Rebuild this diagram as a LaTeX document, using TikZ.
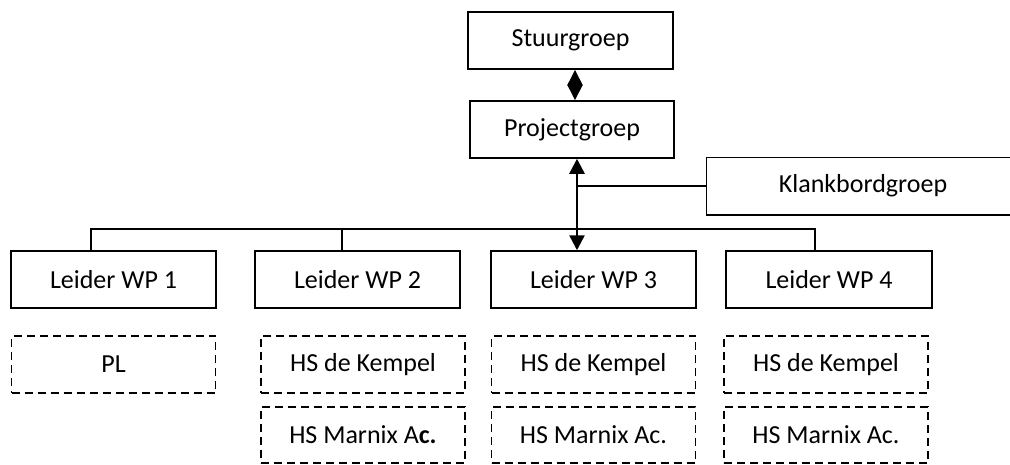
\documentclass[tikz,border=0pt]{standalone}
\usepackage{fontspec}
\setmainfont{Carlito}
\usetikzlibrary{arrows.meta}
\begin{document}
\begin{tikzpicture}[x=1pt,y=-1pt,
  box/.style={draw, line width=1.5pt, minimum width=205pt, minimum height=57pt, inner sep=0pt, font=\fontsize{26}{30}\selectfont},
  dbox/.style={box, dash pattern=on 8pt off 5pt, minimum width=204pt},
  link/.style={line width=1.5pt},
  biarrow/.style={line width=2.5pt, {Triangle[length=15pt,width=15pt]}-{Triangle[length=15pt,width=15pt]}},
  smallbiarrow/.style={line width=2pt, {Triangle[length=15.5pt,width=15pt]}-{Triangle[length=15.5pt,width=15pt]}}]
\useasboundingbox (0,0) rectangle (1010,464);
\coordinate (rim) at (1010,0);
\coordinate (bus) at (0,229);

\node[box] (stuur) at (570.5,40.5) {Stuurgroep};
\node[box, minimum width=204pt] (proj) at (572,129.5) {Projectgroep};
\node[box, draw=none, minimum width=312pt, minimum height=56pt] (klank) at (863,186) {Klankbordgroep};
\draw[link] (klank.north west -| rim) -- (klank.north west) -- (klank.south west) -- (klank.south west -| rim);

\node[box] (l1) at (113.5,279.5) {Leider WP 1};
\node[box] (l2) at (357.5,279.5) {Leider WP 2};
\node[box] (l3) at (593.5,279.5) {Leider WP 3};
\node[box, minimum width=206pt] (l4) at (829,279.5) {Leider WP 4};

\node[dbox] (p1) at (113.5,364.5) {PL};
\node[dbox] (k2) at (363,364.5) {HS de Kempel};
\node[dbox] (k3) at (593.5,364.5) {HS de Kempel};
\node[dbox] (k4) at (826,364.5) {HS de Kempel};
\node[dbox, minimum height=56pt] (m2) at (363,435) {HS Marnix A\textbf{c.}};
\node[dbox, minimum height=56pt] (m3) at (593.5,435) {HS Marnix Ac.};
\node[dbox, minimum height=56pt] (m4) at (826,435) {HS Marnix Ac.};

\coordinate (d1) at ([xshift=-22.5pt]l1.north);
\coordinate (d2) at ([xshift=-15.5pt]l2.north);
\coordinate (d3) at ([xshift=-16.5pt]l3.north);
\coordinate (d4) at ([xshift=-14pt]l4.north);
\draw[link] (d1) -- (d1 |- bus) -- (d4 |- bus) -- (d4);
\draw[link] (d2) -- (d2 |- bus);
\draw[link] (d3 |- klank.west) -- (klank.west);
\draw[biarrow] (d3 |- proj.south) -- (d3);

\coordinate (t1) at ([xshift=4.5pt]stuur.south);
\draw[smallbiarrow] (t1) -- (t1 |- proj.north);
\end{tikzpicture}
\end{document}
